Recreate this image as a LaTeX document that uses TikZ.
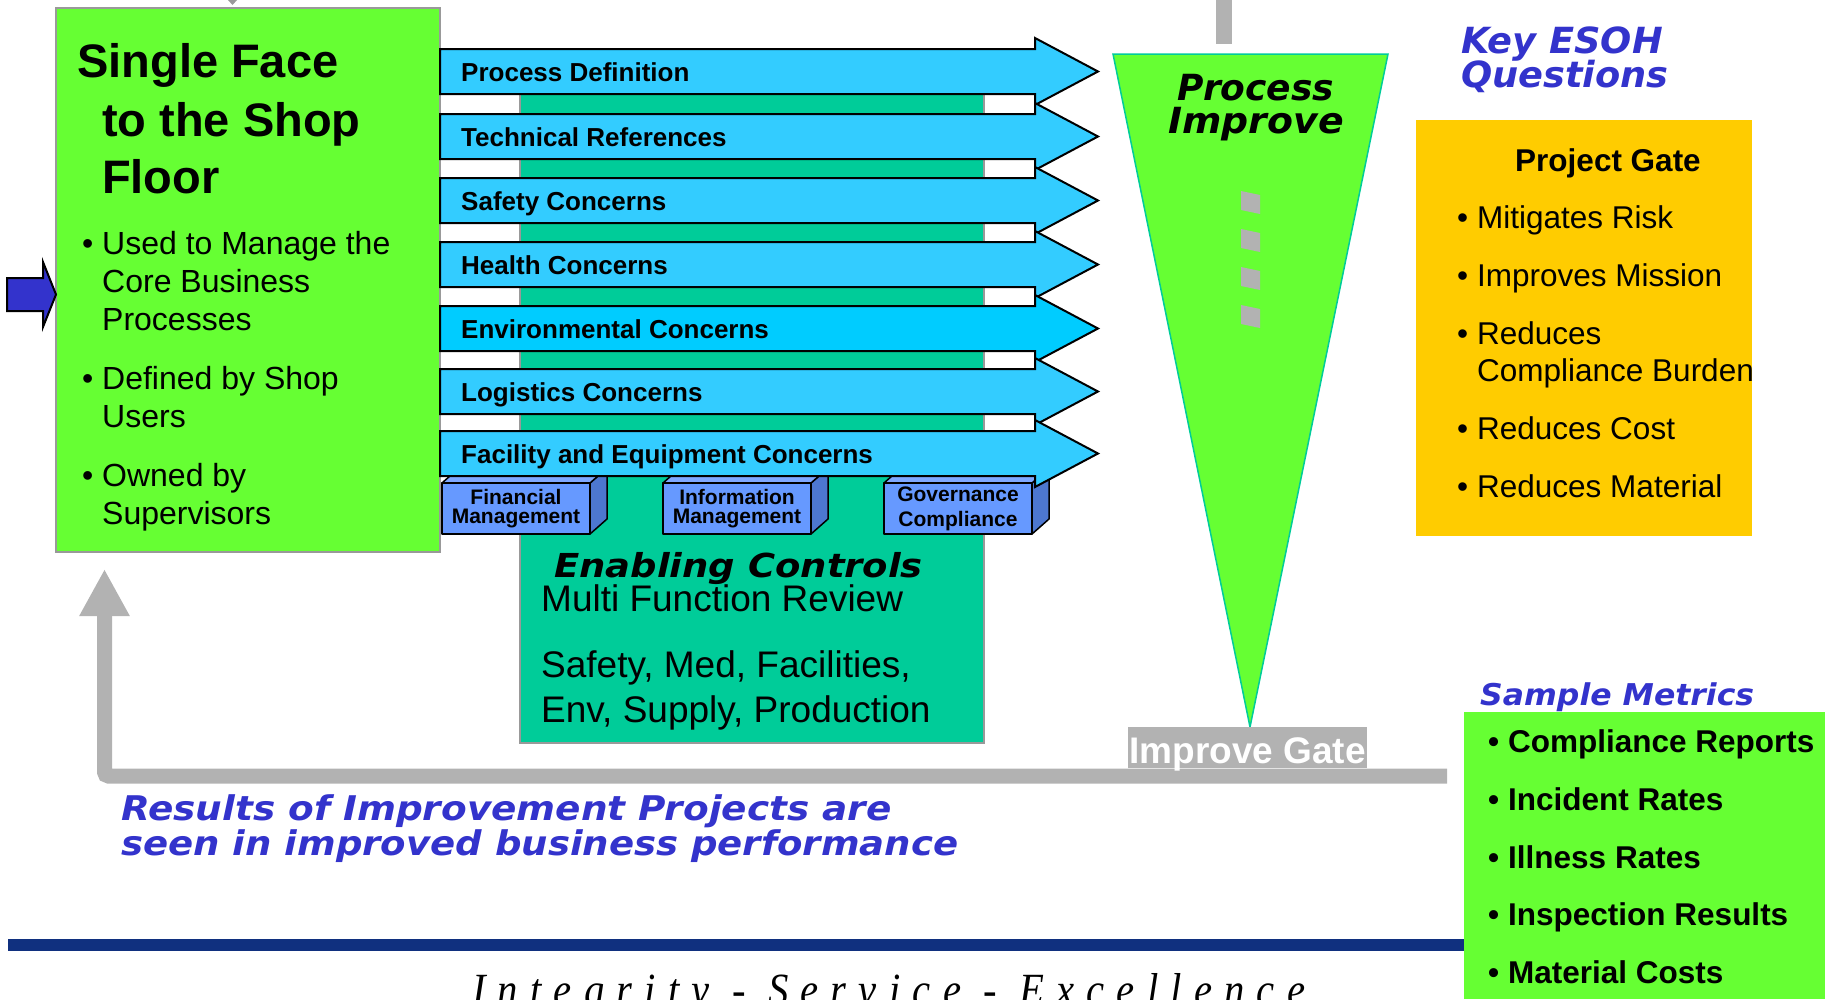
\documentclass[tikz,border=0pt]{standalone}
\usepackage{graphicx}
\usepackage{fontspec}
\setmainfont{Liberation Sans}
\newfontfamily\verdfont{DejaVu Sans}
\newfontfamily\mottofont[LetterSpace=30]{Liberation Serif}
\usetikzlibrary{arrows.meta}

\definecolor{shopgreen}{HTML}{66FF33}
\definecolor{ctrlgreen}{HTML}{00CC99}
\definecolor{concern}{HTML}{33CCFF}
\definecolor{concernenv}{HTML}{00CCFF}
\definecolor{tabfront}{HTML}{6699FF}
\definecolor{tabside}{HTML}{4D77D0}
\definecolor{tabtop}{HTML}{7FA8FF}
\definecolor{gateyellow}{HTML}{FFCC00}
\definecolor{esoh}{HTML}{3333CC}
\definecolor{bargray}{HTML}{B2B2B2}
\definecolor{rimgray}{HTML}{999999}
\definecolor{navy}{HTML}{10307F}

\newcommand{\bul}{\makebox[20pt][l]{\textbullet}}
\newcommand{\vbi}{\verdfont\bfseries\itshape}
\newcommand{\stack}[1]{\begin{tabular}[t]{@{}l@{}}#1\end{tabular}}

\tikzset{
  txt/.style={anchor=base west, inner sep=0},
  concernarrow/.style={draw=black, line width=2pt, line join=miter},
  concernlbl/.style={txt, font=\fontsize{26}{30}\selectfont\bfseries},
  tabface/.style={draw=black, line width=1.5pt, line join=round},
  tablbl/.style={align=center, inner sep=0, font=\fontsize{21}{19}\selectfont\bfseries},
  shoptitle/.style={txt, font=\fontsize{47}{58}\selectfont\bfseries},
  shopitem/.style={txt, font=\fontsize{32}{38}\selectfont},
  ctrlitem/.style={txt, font=\fontsize{37}{45}\selectfont},
  gateitem/.style={txt, font=\fontsize{31.5}{37}\selectfont},
  metricitem/.style={txt, font=\fontsize{31.5}{37}\selectfont\bfseries},
  bluehead/.style={txt, text=esoh},
  gatelbl/.style={anchor=base, fill=bargray, text=white, font=\fontsize{37}{40}\selectfont\bfseries,
    text height=36pt, text depth=5pt, inner ysep=0pt, inner xsep=1.5pt},
  feedback/.style={draw=bargray, line width=15pt, rounded corners=4pt, -{Triangle[length=47pt,width=47pt]}}
}

\begin{document}
\begin{tikzpicture}[x=1pt, y=-1pt]

\useasboundingbox (0,0) rectangle (1825,999);

\def\xl{440}; % concern arrows, left end
\def\xtx{461}; % concern labels

% enabling controls panel, behind the arrows
\filldraw[fill=ctrlgreen, draw=rimgray, line width=1.5pt] (520,60) rectangle (984,743);

% shop floor panel
\filldraw[fill=shopgreen, draw=rimgray, line width=2pt] (56,8) rectangle (440,552);
\fill[rimgray] (228,0) -- (237,0) -- (232.5,5) -- cycle;

% input arrow
\filldraw[fill=esoh, draw=black, line width=2pt] (7,278) -- (43,278) -- (43,262) -- (56,294.5) -- (43,327) -- (43,311) -- (7,311) -- cycle;

\node[shoptitle] (title1) at (77,77) {Single Face};
\node[shoptitle] (title2) at (102,136) {to the Shop};
\node[shoptitle] (title3) at (102,193) {Floor};

\node[shopitem] (used) at (82,254) {\stack{\bul Used to Manage the\\\hspace*{20pt}Core Business\\\hspace*{20pt}Processes}};
\node[shopitem] (defined) at (82,389) {\stack{\bul Defined by Shop\\\hspace*{20pt}Users}};
\node[shopitem] (owned) at (82,486) {\stack{\bul Owned by\\\hspace*{20pt}Supervisors}};

% tabs under the arrows
\filldraw[tabface, fill=tabside] (590,483) -- ++(17,-15) -- ++(0,51) -- ++(-17,15) -- cycle;
\filldraw[tabface, fill=tabtop] (442,483) -- ++(17,-15) -- ++(148,0) -- ++(-17,15) -- cycle;
\filldraw[tabface, fill=tabfront] (442,483) rectangle ++(148,51);

\filldraw[tabface, fill=tabside] (811,483) -- ++(17,-15) -- ++(0,51) -- ++(-17,15) -- cycle;
\filldraw[tabface, fill=tabtop] (663,483) -- ++(17,-15) -- ++(148,0) -- ++(-17,15) -- cycle;
\filldraw[tabface, fill=tabfront] (663,483) rectangle ++(148,51);

\filldraw[tabface, fill=tabside] (1032,483) -- ++(17,-15) -- ++(0,51) -- ++(-17,15) -- cycle;
\filldraw[tabface, fill=tabtop] (884,483) -- ++(17,-15) -- ++(148,0) -- ++(-17,15) -- cycle;
\filldraw[tabface, fill=tabfront] (884,483) rectangle ++(148,51);

\node[tablbl] (fin) at (516,508.5) {Financial\\Management};
\node[tablbl] (info) at (737,508.5) {Information\\Management};
\node[tablbl, font=\fontsize{21}{25}\selectfont\bfseries] (gov) at (958,508.5) {Governance\\Compliance};

% concern arrows
\filldraw[concernarrow, fill=concern] (\xl,49) -- ++(595,0) -- ++(0,-11) -- ++(63,33.5) -- ++(-63,33.5) -- ++(0,-11) -- ++(-595,0) -- cycle;
\filldraw[concernarrow, fill=concern] (\xl,114) -- ++(595,0) -- ++(0,-11) -- ++(63,33.5) -- ++(-63,33.5) -- ++(0,-11) -- ++(-595,0) -- cycle;
\filldraw[concernarrow, fill=concern] (\xl,178) -- ++(595,0) -- ++(0,-11) -- ++(63,33.5) -- ++(-63,33.5) -- ++(0,-11) -- ++(-595,0) -- cycle;
\filldraw[concernarrow, fill=concern] (\xl,242) -- ++(595,0) -- ++(0,-11) -- ++(63,33.5) -- ++(-63,33.5) -- ++(0,-11) -- ++(-595,0) -- cycle;
\filldraw[concernarrow, fill=concernenv] (\xl,306) -- ++(595,0) -- ++(0,-11) -- ++(63,33.5) -- ++(-63,33.5) -- ++(0,-11) -- ++(-595,0) -- cycle;
\filldraw[concernarrow, fill=concern] (\xl,369) -- ++(595,0) -- ++(0,-11) -- ++(63,33.5) -- ++(-63,33.5) -- ++(0,-11) -- ++(-595,0) -- cycle;
\filldraw[concernarrow, fill=concern] (\xl,431) -- ++(595,0) -- ++(0,-11) -- ++(63,33.5) -- ++(-63,33.5) -- ++(0,-11) -- ++(-595,0) -- cycle;

\node[concernlbl] (procdef) at (\xtx,81) {Process Definition};
\node[concernlbl] (techref) at (\xtx,146) {Technical References};
\node[concernlbl] (safety) at (\xtx,210) {Safety Concerns};
\node[concernlbl] (health) at (\xtx,274) {Health Concerns};
\node[concernlbl] (env) at (\xtx,338) {Environmental Concerns};
\node[concernlbl] (logist) at (\xtx,401) {Logistics Concerns};
\node[concernlbl] (facil) at (\xtx,463) {Facility and Equipment Concerns};

\node[txt, font=\fontsize{33}{40}\vbi] (enab) at (554,577) {\scalebox{1.12}[1]{Enabling Controls}};
\node[ctrlitem] (review) at (541,611) {Multi Function Review};
\node[ctrlitem] (funcs) at (541,677) {\stack{Safety, Med, Facilities,\\Env, Supply, Production}};

% improve funnel
\fill[bargray] (1216,0) rectangle (1232,44);
\filldraw[fill=shopgreen, draw=ctrlgreen, line width=1.5pt] (1113,54) -- (1388,54) -- (1250,727) -- cycle;
\node[anchor=base, inner sep=0, font=\fontsize{36}{40}\vbi] (proc) at (1256,100) {Process};
\node[anchor=base, inner sep=0, font=\fontsize{36}{40}\vbi] (impr) at (1256,133) {\scalebox{1.05}[1]{Improve}};
\fill[bargray] (1241,191) -- (1260,195) -- (1260,214) -- (1241,210) -- cycle;
\fill[bargray] (1241,229) -- (1260,233) -- (1260,252) -- (1241,248) -- cycle;
\fill[bargray] (1241,267) -- (1260,271) -- (1260,290) -- (1241,286) -- cycle;
\fill[bargray] (1241,305) -- (1260,309) -- (1260,328) -- (1241,324) -- cycle;

% key questions
\node[bluehead, font=\fontsize{36}{40}\vbi] (key) at (1461,53) {\scalebox{1.02}[1]{Key ESOH}};
\node[bluehead, font=\fontsize{36}{40}\vbi] (quest) at (1461,87) {\scalebox{1.02}[1]{Questions}};

\fill[gateyellow] (1416,120) rectangle (1752,536);
\node[gateitem, font=\fontsize{31.5}{37}\selectfont\bfseries] (pgate) at (1515,171) {Project Gate};
\node[gateitem] (risk) at (1457,228) {\bul Mitigates Risk};
\node[gateitem] (mission) at (1457,286) {\bul Improves Mission};
\node[gateitem] (burden) at (1457,344) {\stack{\bul Reduces\\\hspace*{20pt}Compliance Burden}};
\node[gateitem] (cost) at (1457,439) {\bul Reduces Cost};
\node[gateitem] (mat) at (1457,497) {\bul Reduces Material};

% feedback loop
\coordinate (fbstart) at (1447,776);
\coordinate (fbtip) at (104.5,569);
\draw[feedback] (fbstart) -| (fbtip);
\node[gatelbl] (gate) at (1247.5,763) {Improve Gate};

\node[bluehead, font=\fontsize{34}{40}\vbi] (res1) at (121,820) {\scalebox{1.1}[1]{Results of Improvement Projects are}};
\node[bluehead, font=\fontsize{34}{40}\vbi] (res2) at (121,855) {\scalebox{1.09}[1]{seen in improved business performance}};

% metrics
\node[bluehead, font=\fontsize{30}{36}\vbi] (sample) at (1480,705) {\scalebox{1.05}[1]{Sample Metrics}};
\fill[navy] (8,939) rectangle (1464,951);
\fill[shopgreen] (1464,712) rectangle (1825,999);
\node[metricitem] (comp) at (1488,752) {\bul Compliance Reports};
\node[metricitem] (incid) at (1488,810) {\bul Incident Rates};
\node[metricitem] (ill) at (1488,868) {\bul Illness Rates};
\node[metricitem] (insp) at (1488,925) {\bul Inspection Results};
\node[metricitem] (matc) at (1488,983) {\bul Material Costs};

\node[anchor=base west, inner sep=0] (motto) at (472,1005) {\resizebox{833pt}{32pt}{\mottofont\itshape Integrity - Service - Excellence}};

\end{tikzpicture}
\end{document}
